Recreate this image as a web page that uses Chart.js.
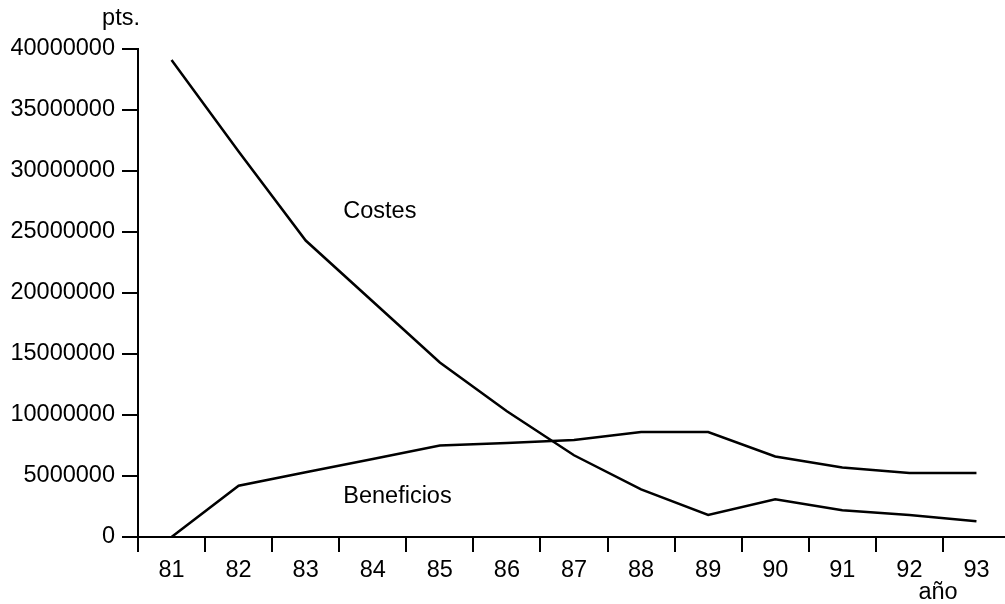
<!DOCTYPE html>
<html>
<head>
<meta charset="utf-8">
<script src="https://cdn.jsdelivr.net/npm/chart.js@4/dist/chart.umd.min.js"></script>
<style>
  html, body { margin: 0; padding: 0; background: #fff; overflow: hidden; }
  #wrap { width: 1005px; height: 604px; overflow: hidden; }
</style>
</head>
<body>
<div id="wrap"><canvas id="grafico" width="1010" height="604"></canvas></div>
<script>
const anios = ['81', '82', '83', '84', '85', '86', '87', '88', '89', '90', '91', '92', '93'];
const costes = [39100000, 31600000, 24300000, 19300000, 14300000, 10300000, 6700000, 3900000, 1800000, 3100000, 2200000, 1800000, 1300000];
const beneficios = [0, 4200000, 5300000, 6400000, 7500000, 7700000, 7950000, 8600000, 8600000, 6600000, 5700000, 5250000, 5250000];
const yTicks = [0, 5000000, 10000000, 15000000, 20000000, 25000000, 30000000, 35000000, 40000000];

// etiquetas de las series, en coordenadas de datos (indice de categoria, valor)
const etiquetas = [
    { texto: 'Costes', idx: 2.56, valor: 26700000 },
    { texto: 'Beneficios', idx: 2.56, valor: 3300000 }
];

const fuente = '"Liberation Sans", Arial, sans-serif';
const tam = 23.5;

const textosPlugin = {
    id: 'textos',
    afterDraw(chart) {
        const ctx = chart.ctx;
        const x = chart.scales.x, y = chart.scales.y;
        const x0 = x.getPixelForValue(0), x1 = x.getPixelForValue(1);
        ctx.save();
        ctx.fillStyle = '#000';
        ctx.font = tam + 'px ' + fuente;
        ctx.textBaseline = 'middle';
        ctx.textAlign = 'left';
        etiquetas.forEach(e => {
            ctx.fillText(e.texto, x0 + (x1 - x0) * e.idx, y.getPixelForValue(e.valor));
        });
        // titulos de los ejes
        ctx.textAlign = 'center';
        ctx.fillText('pts.', 121, 19);
        ctx.fillText('año', 938, 593);
        ctx.restore();
    }
};

new Chart(document.getElementById('grafico'), {
    type: 'line',
    data: {
        labels: anios,
        datasets: [{
            label: 'Costes',
            data: costes,
            borderColor: '#000',
            borderWidth: 2.5,
            pointRadius: 0,
            tension: 0,
            fill: false
        }, {
            label: 'Beneficios',
            data: beneficios,
            borderColor: '#000',
            borderWidth: 2.5,
            pointRadius: 0,
            tension: 0,
            fill: false
        }]
    },
    options: {
        responsive: false,
        animation: false,
        layout: { padding: { top: 49, left: 0, right: 0, bottom: 0 } },
        plugins: {
            legend: { display: false },
            tooltip: { enabled: false }
        },
        scales: {
            x: {
                offset: true,
                grid: { offset: true, drawOnChartArea: false, color: '#000', lineWidth: 2, tickLength: 15 },
                border: { display: true, color: '#000', width: 2 },
                ticks: { color: '#000', font: { size: tam, family: fuente }, padding: 4, maxRotation: 0, autoSkip: false },
                afterFit(scale) { scale.height = 67; }
            },
            y: {
                min: 0,
                max: 40000000,
                afterBuildTicks(scale) { scale.ticks = yTicks.map(v => ({ value: v })); },
                grid: { drawOnChartArea: false, color: '#000', lineWidth: 2, tickLength: 16 },
                border: { display: true, color: '#000', width: 2 },
                ticks: { color: '#000', font: { size: tam, family: fuente }, padding: 7, callback: v => String(v) },
                afterFit(scale) { scale.width = 138; }
            }
        }
    },
    plugins: [textosPlugin]
});
</script>
</body>
</html>
